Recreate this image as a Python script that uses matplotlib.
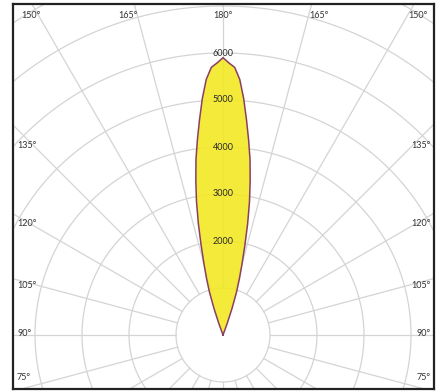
import numpy as np
import matplotlib
matplotlib.use("Agg")
import matplotlib.pyplot as plt

# ---- data ----
# deviation from the 180° axis (degrees) and luminous intensity (cd)
beam_angles = [0, 1.25, 2.5, 3.75, 5, 6.25, 7.5, 8.75, 10, 11.25, 12.5,
               13.75, 15, 16.25, 17.5, 18.75, 20, 21.25]
beam_values = [5900, 5790, 5700, 5450, 5050, 4600, 4180, 3780, 3330, 2890, 2420,
               1950, 1560, 1250, 960, 600, 250, 0]
radial_ticks = [2000, 3000, 4000, 5000, 6000]
grid_radii = [1000, 2000, 3000, 4000, 5000, 6000, 7000, 8000, 9000]
ray_step = 15
top_labels = ["150°", "165°", "180°", "165°", "150°"]
side_labels = ["135°", "120°", "105°", "90°", "75°"]

W, H = 444, 391
fig = plt.figure(figsize=(W / 100, H / 100), dpi=100)
ax = fig.add_axes([13 / W, 2 / H, 421 / W, 385 / H])
scale = 47 / 1000.0  # px per cd
ax.set_xlim(-(223 - 13) / scale, (434 - 223) / scale)
ax.set_ylim(-(389 - 335) / scale, (335 - 4) / scale)
ax.set_xticks([]); ax.set_yticks([])
for s in ax.spines.values():
    s.set_color("#222222"); s.set_linewidth(1.6)

grid_c = "#d4d4d4"
t = np.linspace(0, 2 * np.pi, 721)
for r in grid_radii:
    ax.plot(r * np.sin(t), r * np.cos(t), color=grid_c, lw=0.9, zorder=2)
rmin, rmax = grid_radii[0], grid_radii[-1]
for a in np.arange(0, 360, ray_step):
    ar = np.deg2rad(a)
    ax.plot([rmin * np.sin(ar), rmax * np.sin(ar)], [rmin * np.cos(ar), rmax * np.cos(ar)],
            color=grid_c, lw=0.9, zorder=2)

# beam (angle measured from the upward 180° axis)
ang = np.array([-a for a in beam_angles[::-1]] + beam_angles[1:])
val = np.array(beam_values[::-1] + beam_values[1:])
ar = np.deg2rad(ang)
bx, by = val * np.sin(ar), val * np.cos(ar)
ax.fill(bx, by, color="#f2e81e", alpha=0.88, zorder=3, lw=0)
ax.plot(bx, by, color="#8a3f62", lw=1.1, zorder=4)

fs = 6.5
fam = ["Lato", "DejaVu Sans"]
for r in radial_ticks:
    ax.text(0, r, str(r), ha="center", va="center", fontsize=fs, color="#2a2a2a",
            family=fam, zorder=5)

def px(x, y):
    return ((x - 13) / 421, (389 - y) / 385)

top_x = [31, 128, 223, 319, 418]
for lab, x in zip(top_labels, top_x):
    ax.text(*px(x, 15), lab, transform=ax.transAxes, ha="center", va="center",
            fontsize=fs, color="#333333", family=fam)
side_y = [145, 224, 285, 334, 378]
for lab, y in zip(side_labels, side_y):
    ax.text(*px(17, y), lab, transform=ax.transAxes, ha="left", va="center",
            fontsize=fs, color="#333333", family=fam)
    ax.text(*px(431, y), lab, transform=ax.transAxes, ha="right", va="center",
            fontsize=fs, color="#333333", family=fam)

fig.savefig("out.png", dpi=100)
